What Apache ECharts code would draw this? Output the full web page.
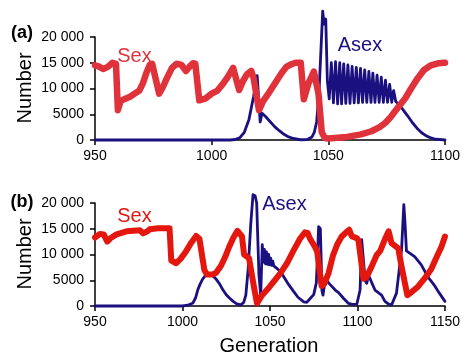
<!DOCTYPE html>
<html><head><meta charset="utf-8">
<script src="https://cdn.jsdelivr.net/npm/echarts@6/dist/echarts.min.js"></script>
<style>html,body{margin:0;padding:0;background:#fff}#c{width:463px;height:358px}</style>
</head><body><div id="c"></div>
<script>
// Tick values and labels
var xTicksA = [950, 1000, 1050, 1100];
var xTicksB = [950, 1000, 1050, 1100, 1150];
var yTickValues = [0, 5000, 10000, 15000, 20000];
var yTickLabels = ['0', '5000', '10 000', '15 000', '20 000'];

// Panel (a): [generation, number]
var sexA = [[950,14500],[951.5,14300],[953.5,13800],[955.5,14200],[957.5,15000],[959,14800],[959.8,5800],[961,7600],[963,8000],[965,8400],[967,9000],[969,9600],[970.5,11000],[972,13000],[973.5,14600],[974.5,14800],[977.5,9000],[979,10200],[981,12200],[983,14000],[985,14800],[987,14600],[989,13400],[990.5,14200],[992,14900],[993,14800],[994.7,7700],[997.5,8100],[1000,9000],[1002.5,9600],[1005,11000],[1007,12300],[1009.2,14000],[1010,13800],[1011.8,9700],[1013.5,11500],[1015.2,12800],[1017,13400],[1018,12000],[1020.3,5800],[1022,7500],[1024,8800],[1026,10200],[1028,11600],[1030,13000],[1032,14200],[1034,14700],[1036,15000],[1038.2,15000],[1039.5,7900],[1041.5,11000],[1043.8,13300],[1045.8,9000],[1047.2,1500],[1048.5,400],[1050,300],[1058,600],[1064,1100],[1068.5,1700],[1072,2500],[1074.4,3300],[1077,4600],[1080,6400],[1083,8100],[1085.5,10000],[1088,11800],[1091,13600],[1094,14500],[1097,14900],[1100,15000]];
var asexA = [[950,0],[1008,0],[1010,100],[1012,400],[1014,1500],[1016,4000],[1018,8500],[1019.5,12500],[1020.8,3500],[1021.6,5200],[1023,4600],[1025,3600],[1027,2600],[1029,1800],[1031,1100],[1033,600],[1035,300],[1038,50],[1041,100],[1043,600],[1044,1500],[1045,3500],[1046,9000],[1047,19000],[1047.6,25000],[1048.2,22500],[1048.9,23500],[1049.6,11500],[1050.4,8000],[1051.3,15000],[1052.2,7200],[1053.1,15200],[1054.0,7000],[1054.9,15000],[1055.7,7000],[1056.6,14800],[1057.5,7100],[1058.4,14600],[1059.3,7100],[1060.2,14300],[1061.1,7200],[1062.0,14100],[1062.9,7200],[1063.8,13900],[1064.7,7300],[1065.6,13600],[1066.5,7300],[1067.4,13300],[1068.3,7300],[1069.1,13000],[1070.0,7300],[1070.9,12600],[1071.8,7300],[1072.7,12200],[1073.6,7300],[1074.5,11600],[1075.4,7300],[1076.3,10800],[1077.2,7300],[1078.0,9600],[1078.9,7500],[1080,7000],[1082,5900],[1084,4700],[1086,3400],[1088,2300],[1090,1400],[1092,800],[1094,400],[1096,150],[1100,0]];

// Panel (b)
var sexB = [[950,13300],[952.8,14000],[955,13900],[957,12500],[959,13200],[962.3,13900],[968,14500],[975.6,14700],[977.5,14100],[978.4,13800],[980,14500],[981.3,14900],[986,15100],[992.6,15100],[993.6,8800],[996.4,8300],[999,9200],[1002,10600],[1005,12300],[1007.8,13600],[1009.7,13000],[1012.5,7000],[1014,6100],[1017,6100],[1019.1,6400],[1022,7800],[1024.5,9600],[1026.7,11500],[1029,13200],[1031.4,14600],[1032.4,14600],[1034,13500],[1035.2,10000],[1038,9300],[1041,3400],[1042.6,500],[1045.5,2100],[1049,3400],[1052,4700],[1056,6400],[1059.7,8300],[1063.5,10800],[1067.4,13200],[1070,14300],[1071.5,14200],[1073,13000],[1076,11300],[1077,10500],[1079.5,3900],[1081,4300],[1083.5,6400],[1086,9800],[1088.5,12000],[1091,13500],[1093.5,14300],[1095.3,14800],[1096.8,13500],[1099.6,13200],[1100.6,12700],[1103.4,5300],[1105,5500],[1108,7600],[1111,9900],[1113,10700],[1115.5,12800],[1117.8,14500],[1119.5,12200],[1123.3,11200],[1125,8000],[1128.5,2100],[1131,2700],[1134.7,3800],[1138.5,5400],[1142.2,7200],[1145,9300],[1148,11500],[1150,13500]];
var asexB = [[950,0],[1000,0],[1003,150],[1006,600],[1007.5,1600],[1008.7,3100],[1010,4200],[1011.5,5200],[1013,5900],[1015,6300],[1017,6000],[1019,5300],[1021,4400],[1023,3200],[1025,2200],[1027,1500],[1029,900],[1031,400],[1033.3,200],[1035,700],[1036.2,2100],[1037.5,7000],[1039,15800],[1040.3,21600],[1041.5,21400],[1042.4,20000],[1043.7,6000],[1044.7,2100],[1045.6,11900],[1046.2,8500],[1046.8,11000],[1047.4,8200],[1048,10500],[1048.6,8100],[1049.2,10000],[1049.8,8000],[1050.4,9300],[1051,7900],[1051.6,8700],[1052.2,7800],[1053,8000],[1056,6700],[1060,4500],[1063.6,2800],[1066,1700],[1069.3,800],[1071,700],[1073.1,1500],[1075,2200],[1076.5,4500],[1077.8,15400],[1078.8,15000],[1079.7,3000],[1080.3,2100],[1081.6,5300],[1084,4300],[1087.3,3100],[1089.2,2600],[1092,1500],[1094.9,500],[1097,300],[1099.6,300],[1101.5,3100],[1102.4,12900],[1103.4,9000],[1104.4,5000],[1105.3,4400],[1106.3,6000],[1110,3100],[1113.8,2100],[1115.7,900],[1117.6,400],[1119.5,200],[1122.3,2500],[1125.2,10900],[1126.5,19700],[1127.2,16000],[1128,10700],[1132.7,9600],[1136.5,8000],[1140.3,5600],[1144,4000],[1147,2400],[1150,900]];

var FONT = 'Liberation Sans, Arial, Helvetica, sans-serif';
var RED_A = '#e0323a', RED_B = '#e3170e', NAVY = '#1b1080';

function xAxisFor(idx, ticks) {
  return {
    type: 'value', gridIndex: idx, min: ticks[0], max: ticks[ticks.length-1], interval: 50,
    axisLine: {show: true, lineStyle: {color: '#000', width: 1.5}},
    axisTick: {show: true, length: 5, lineStyle: {color: '#000', width: 1.5}},
    axisLabel: {color: '#000', fontSize: 14, fontFamily: FONT, margin: 9,
      formatter: function (v) { return ticks.indexOf(v) >= 0 ? String(v) : ''; }},
    splitLine: {show: false}
  };
}
function yAxisFor(idx) {
  return {
    type: 'value', gridIndex: idx, min: 0, max: 20000, interval: 5000,
    axisLine: {show: true, lineStyle: {color: '#000', width: 1.5}},
    axisTick: {show: true, length: 5, lineStyle: {color: '#000', width: 1.5}},
    axisLabel: {color: '#000', fontSize: 14, fontFamily: FONT, margin: 11,
      formatter: function (v) { var i = yTickValues.indexOf(v); return i >= 0 ? yTickLabels[i] : ''; }},
    splitLine: {show: false}
  };
}
function lineSeries(idx, data, color, width, z) {
  return {
    type: 'line', xAxisIndex: idx, yAxisIndex: idx, data: data, symbol: 'none', clip: false, z: z,
    animation: false,
    lineStyle: {color: color, width: width, cap: 'round', join: 'round'}
  };
}
function txt(x, y, s, size, color, weight, rot) {
  return {type: 'text', x: x, y: y, rotation: rot || 0, z: 100,
    style: {text: s, fill: color, font: (weight || 'normal') + ' ' + size + 'px ' + FONT, align: 'center', verticalAlign: 'middle'}};
}

var chart = echarts.init(document.getElementById('c'), null, {renderer: 'canvas'});
chart.setOption({
  animation: false,
  backgroundColor: '#fff',
  grid: [
    {left: 95, top: 37, width: 352, height: 103},
    {left: 95, top: 203, width: 352, height: 103}
  ],
  xAxis: [xAxisFor(0, xTicksA), xAxisFor(1, xTicksB)],
  yAxis: [yAxisFor(0), yAxisFor(1)],
  series: [
    lineSeries(0, asexA, NAVY, 2.8, 2),
    lineSeries(0, sexA, RED_A, 6.5, 3),
    lineSeries(1, asexB, NAVY, 2.8, 2),
    lineSeries(1, sexB, RED_B, 6, 3)
  ],
  graphic: [
    txt(22, 33, '(a)', 18, '#000', 'bold'),
    txt(22, 202, '(b)', 18, '#000', 'bold'),
    txt(25, 88, 'Number', 20, '#000', 'normal', Math.PI/2),
    txt(25, 254, 'Number', 20, '#000', 'normal', Math.PI/2),
    txt(269, 346, 'Generation', 20, '#000'),
    txt(134.5, 56, 'Sex', 20, RED_A),
    txt(360, 45, 'Asex', 20, NAVY),
    txt(134.5, 216, 'Sex', 20, RED_B),
    txt(284.5, 204, 'Asex', 20, NAVY)
  ]
});
</script></body></html>
